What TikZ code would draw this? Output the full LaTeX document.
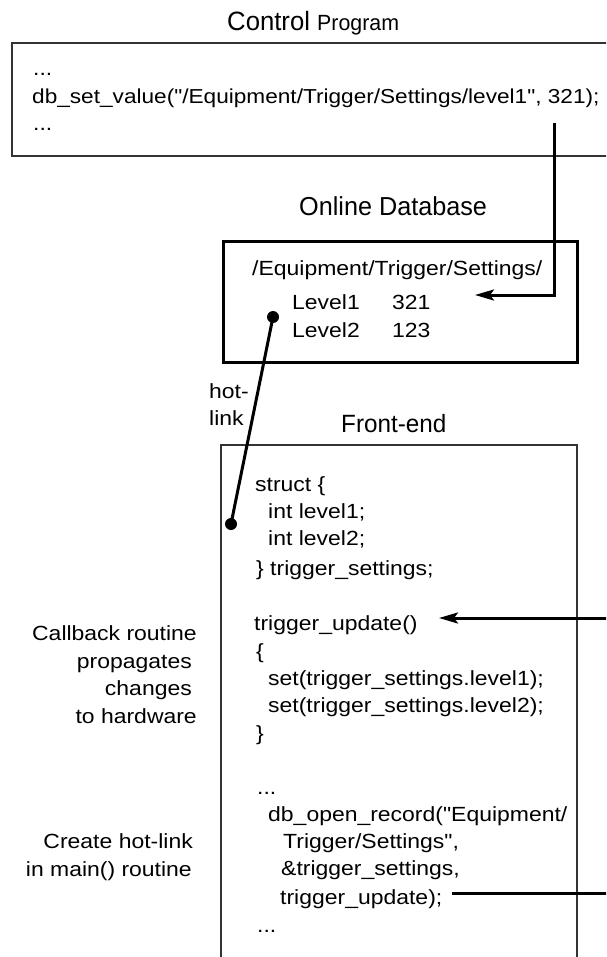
\documentclass[tikz,border=0pt]{standalone}
\usepackage{fontspec}
\setmainfont{Liberation Sans}
\newfontfamily\bodyfont[FakeStretch=1.12]{Liberation Sans}
\newfontfamily\titlefont[FakeStretch=0.97]{Liberation Sans}
\usetikzlibrary{arrows.meta}

\begin{document}
\begin{tikzpicture}[x=1pt,y=-1pt,
  txt/.style={inner sep=0pt,anchor=base west,font=\bodyfont\fontsize{20.5}{27}\selectfont},
  rtxt/.style={txt,anchor=base east},
  ttl/.style={inner sep=0pt,anchor=base west,font=\titlefont\fontsize{26}{30}\selectfont},
  thinbox/.style={draw=black!80,line width=1.5pt,rectangle,inner sep=0pt},
  thickbox/.style={draw=black,line width=3pt,rectangle,inner sep=0pt},
  link/.style={draw=black,line width=3pt},
  tip/.style={-{Stealth[length=19pt,width=11pt,inset=4pt]}},
  dot/.style={circle,fill=black,inner sep=0pt,minimum size=12pt}
]
\fill[white] (0,0) rectangle (606,957);
\useasboundingbox (0,0) rectangle (606,957);
\clip (0,0) rectangle (606,957);

% ---------- control program ----------
\node[ttl] (ctltitle) at (227,31)
  {\fontsize{26.5}{30}\selectfont Control {\fontsize{22}{26}\selectfont Program}};
\node[thinbox,minimum width=620pt,minimum height=113pt] (ctl) at (322,99.5) {};
\node[txt] (c1) at (33,76) {...};
\node[txt,font=\bodyfont\fontsize{20.2}{27}\selectfont] (c2) at (32,104)
  {db\_set\_value("/Equipment/Trigger/Settings/level1", 321);};
\node[txt] (c3) at (33,131) {...};

% ---------- online database ----------
\node[ttl] (dbtitle) at (299,216) {Online Database};
\node[thickbox,minimum width=354pt,minimum height=120pt] (db) at (400,302) {};
\node[txt] (dbpath) at (252,276) {/Equipment/Trigger/Settings/};
\node[txt] (lv1) at (292,309) {Level1};
\node[txt] (lv1v) at (392,309) {321};
\node[txt] (lv2) at (292,337) {Level2};
\node[txt] (lv2v) at (392,337) {123};

% ---------- front-end ----------
\node[ttl,font=\titlefont\fontsize{25}{30}\selectfont] (fetitle) at (341,432) {Front-end};
\node[thinbox,minimum width=356pt,minimum height=540pt] (fe) at (399,715) {};
\node[txt] (f1) at (255,491) {struct \{};
\node[txt] (f2) at (268,518) {int level1;};
\node[txt] (f3) at (268,545) {int level2;};
\node[txt] (f4) at (256,575) {\} trigger\_settings;};
\node[txt] (f5) at (254,630) {trigger\_update()};
\node[txt] (f6) at (256,658) {\{};
\node[txt] (f7) at (268,685) {set(trigger\_settings.level1);};
\node[txt] (f8) at (268,712) {set(trigger\_settings.level2);};
\node[txt] (f9) at (256,740) {\}};
\node[txt] (f10) at (257,794) {...};
\node[txt] (f11) at (268,821) {db\_open\_record("Equipment/};
\node[txt] (f12) at (283,848) {Trigger/Settings",};
\node[txt] (f13) at (281,875) {\&trigger\_settings,};
\node[txt] (f14) at (280,904) {trigger\_update);};
\node[txt] (f15) at (257,932) {...};

% ---------- side notes ----------
\node[txt] (hl1) at (209,398) {hot-};
\node[txt] (hl2) at (209,425) {link};
\node[rtxt] (n1) at (197,640) {Callback routine};
\node[rtxt] (n2) at (192,668) {propagates};
\node[rtxt] (n3) at (192,695) {changes};
\node[rtxt] (n4) at (197,723) {to hardware};
\node[rtxt] (n5) at (193,848) {Create hot-link};
\node[rtxt] (n6) at (192,876) {in main() routine};

% ---------- connectors ----------
\coordinate (setsrc) at (554,123);
\coordinate (settip) at (475,295);
\draw[link,tip] (setsrc) |- (settip);

\node[dot] (dbdot) at (273,317) {};
\node[dot] (fedot) at (231,524) {};
\draw[link] (dbdot.center) -- (fedot.center);

\coordinate (cbsrc) at (612,618);
\coordinate (cbtip) at (439,618);
\draw[link,tip] (cbsrc) -- (cbtip);

\coordinate (regsrc) at (452,893);
\coordinate (regout) at (612,893);
\draw[link] (regsrc) -- (regout);
\end{tikzpicture}
\end{document}
